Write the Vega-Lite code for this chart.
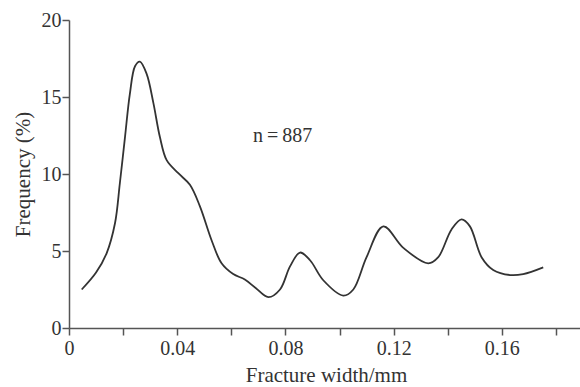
{
  "$schema": "https://vega.github.io/schema/vega-lite/v6.json",
  "autosize": {"type": "none"},
  "width": 514,
  "height": 308,
  "padding": {"left": 69, "top": 20, "right": 0, "bottom": 59},
  "config": {
    "view": {"stroke": null},
    "font": "Liberation Serif",
    "axis": {
      "labelFont": "Liberation Serif",
      "titleFont": "Liberation Serif",
      "labelFontSize": 20,
      "titleFontSize": 21,
      "titleFontWeight": "normal",
      "labelColor": "#333",
      "titleColor": "#333",
      "domainColor": "#555",
      "tickColor": "#555",
      "domainWidth": 1.5,
      "tickWidth": 1.5,
      "tickSize": 7,
      "labelFlush": false,
      "grid": false
    }
  },
  "layer": [
    {
      "data": {"values": [
        {"w": 0.0047, "f": 2.5},
        {"w": 0.0100, "f": 3.6},
        {"w": 0.0139, "f": 4.85},
        {"w": 0.0170, "f": 6.8},
        {"w": 0.0188, "f": 9.4},
        {"w": 0.0207, "f": 12.4},
        {"w": 0.0225, "f": 15.2},
        {"w": 0.0244, "f": 17.0},
        {"w": 0.0262, "f": 17.3},
        {"w": 0.0287, "f": 16.5},
        {"w": 0.0312, "f": 14.6},
        {"w": 0.0336, "f": 12.4},
        {"w": 0.0361, "f": 10.9},
        {"w": 0.0404, "f": 10.05},
        {"w": 0.0447, "f": 9.3},
        {"w": 0.0484, "f": 7.9},
        {"w": 0.0527, "f": 5.7},
        {"w": 0.0564, "f": 4.2},
        {"w": 0.0607, "f": 3.5},
        {"w": 0.0650, "f": 3.15},
        {"w": 0.0690, "f": 2.6},
        {"w": 0.0737, "f": 2.0},
        {"w": 0.078, "f": 2.5},
        {"w": 0.0817, "f": 4.0},
        {"w": 0.0854, "f": 4.9},
        {"w": 0.0891, "f": 4.4},
        {"w": 0.094, "f": 3.1},
        {"w": 0.1014, "f": 2.1},
        {"w": 0.1051, "f": 2.5},
        {"w": 0.110, "f": 4.6},
        {"w": 0.1162, "f": 6.6},
        {"w": 0.1236, "f": 5.2},
        {"w": 0.1328, "f": 4.2},
        {"w": 0.1365, "f": 4.6},
        {"w": 0.1414, "f": 6.4},
        {"w": 0.1451, "f": 7.05},
        {"w": 0.1482, "f": 6.6},
        {"w": 0.1525, "f": 4.6},
        {"w": 0.1568, "f": 3.77},
        {"w": 0.163, "f": 3.44},
        {"w": 0.1679, "f": 3.5},
        {"w": 0.1753, "f": 3.94}
      ]},
      "mark": {"type": "line", "interpolate": "catmull-rom", "color": "#333", "strokeWidth": 1.8},
      "encoding": {
        "x": {
          "field": "w", "type": "quantitative",
          "scale": {"domain": [0, 0.19], "nice": false, "zero": true},
          "axis": {
            "title": "Fracture width/mm",
            "values": [0, 0.02, 0.04, 0.06, 0.08, 0.1, 0.12, 0.14, 0.16, 0.18],
            "labelExpr": "round(datum.value*100) % 4 == 0 ? format(datum.value, '.2~f') : ''",
            "labelPadding": 3,
            "titlePadding": 6
          }
        },
        "y": {
          "field": "f", "type": "quantitative",
          "scale": {"domain": [0, 20], "nice": false},
          "axis": {
            "title": "Frequency (%)",
            "values": [0, 5, 10, 15, 20],
            "labelPadding": 1,
            "titlePadding": 8
          }
        }
      }
    },
    {
      "data": {"values": [{"w": 0.079, "f": 12.5, "label": "n\u2009=\u2009887"}]},
      "mark": {"type": "text", "font": "Liberation Serif", "fontSize": 20, "color": "#333"},
      "encoding": {
        "x": {"field": "w", "type": "quantitative"},
        "y": {"field": "f", "type": "quantitative"},
        "text": {"field": "label"}
      }
    }
  ]
}
